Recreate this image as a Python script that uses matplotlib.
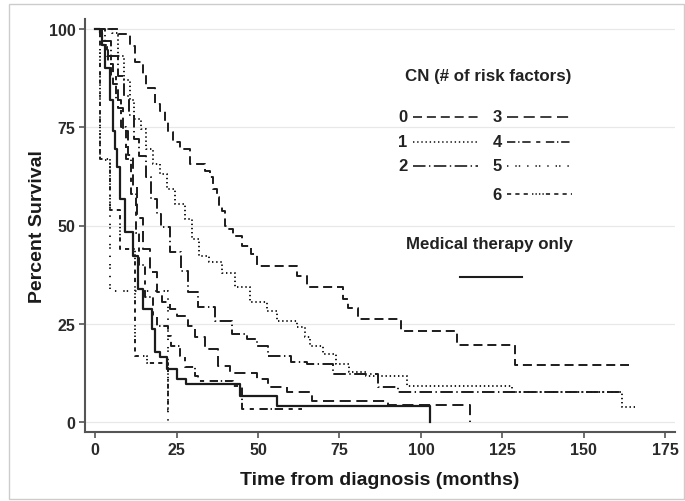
import matplotlib
matplotlib.use("Agg")
import matplotlib.pyplot as plt
from matplotlib.lines import Line2D
from matplotlib.patches import Rectangle

plt.rcParams['font.family'] = ['Liberation Sans', 'DejaVu Sans']
plt.rcParams['lines.scale_dashes'] = False

# Kaplan-Meier step points (months, percent surviving)
t0 = [0, 7, 10.7, 12.3, 14.7, 15.6, 18.4, 20, 21.5, 22.4, 24, 26, 29, 33.7, 35.3, 36.2, 37.4, 38, 38.9, 39.9,
      40.8, 42.3, 45, 48, 49.7, 62, 65, 76, 77.6, 80.7, 94, 111, 129]
s0 = [100, 98.7, 95.7, 91.6, 88.5, 85, 81, 79, 76.6, 73.8, 71.2, 69.5, 65.6, 63.9, 62.3, 59.3, 57.3, 54.7, 53.7, 50,
      49, 47.3, 44.8, 42.7, 39.7, 37.2, 34.3, 31.3, 29, 26.2, 23.2, 19.6, 14.5]
end0 = 164

t1 = [0, 5.2, 7, 9, 10.7, 12, 14, 15.6, 17.8, 20, 22, 24.5, 27.6, 29.8, 32, 35, 39, 43, 47.5, 52.8,
      55.8, 62, 64.4, 66, 70, 74, 78, 83, 95.7, 128, 161.7]
s1 = [100, 99, 93, 87, 82, 77, 74.5, 69.5, 65.6, 63, 59.3, 55.5, 51.6, 46.5, 42.2, 40.7, 38, 34.3, 30.5, 28.2,
      25.7, 24.2, 21.6, 19.3, 17.3, 14.8, 12.7, 11.7, 9.2, 7.6, 3.8]
end1 = 165.6

t2 = [0, 3, 5, 7, 9, 10.5, 12, 13.5, 15.5, 17.2, 19, 20.2, 23, 26.4, 28.5, 31.6, 36.8, 42, 46.6, 49.7,
      53, 60, 65, 73, 86.8, 93]
s2 = [100, 97, 93, 88, 83, 78, 72, 67.7, 62.3, 56.7, 53, 49.6, 43.3, 38.4, 33, 29.3, 25.7, 22.4, 21.1, 19.3,
      16.8, 15.3, 14.8, 12.2, 8.9, 7.6]
end2 = 162

t3 = [0, 2, 4, 5.5, 7, 8.5, 10, 11.5, 13, 14.7, 16.9, 19, 20.6, 23, 25, 28.5, 30.7, 33.7, 37.7, 41.4,
      49.7, 53, 59, 66.6, 90, 115]
s3 = [100, 96, 91, 86, 80, 74, 68, 60, 52, 44, 38.2, 33, 30.5, 28.8, 27, 24.4, 21.6, 18.6, 14.2, 12.4,
      11, 8.9, 7.6, 5.3, 4.3, 0]
end3 = 115

t4 = [0, 2, 3.5, 5, 6.5, 8, 9.5, 11, 12.5, 13.5, 15.3, 17.8, 19, 22.4, 23.3, 26, 27.5, 30.7, 31.6, 42.3, 45]
s4 = [100, 97, 93, 88, 82, 75, 67, 58, 48, 40, 31.8, 27, 24.4, 21.9, 19.3, 16.8, 14, 11.7, 10.4, 9.2, 3.3]
end4 = 63.5

t5 = [0, 1.5, 4.5, 22.5]
s5 = [100, 66.7, 33.3, 0]
end5 = 22.5

t6 = [0, 1.5, 4.5, 7.7, 12.3, 16, 22.4]
s6 = [100, 67, 54, 44, 16.7, 15, 3]
end6 = 23

tm = [0, 1.5, 2.1, 3, 4.6, 5.5, 6.1, 6.7, 7.7, 9.2, 11.7, 13.2, 14.7, 17.5, 18.4, 20, 22, 25, 28, 44.5,
      55.8, 102.8]
sm = [100, 99, 96, 90, 82, 74, 69.5, 65, 56.7, 48.3, 42.2, 33.8, 28.8, 23.7, 17.8, 16.5, 13.5, 11, 9.7, 6.6,
      4.1, 0]
endm = 102.8

x_ticks = [0, 25, 50, 75, 100, 125, 150, 175]
y_ticks = [0, 25, 50, 75, 100]

dash = {
    '0': (0, (6.5, 3.5)),
    '1': (0, (1, 2)),
    '2': (0, (9, 2.5, 1, 2.5)),
    '3': (0, (8, 4)),
    '4': (0, (6, 2, 1, 2, 6, 4, 3, 4)),
    '5': (0, (1, 5, 1, 1.5, 1, 5)),
    '6': (0, (3, 3, 3, 3, 3, 3, 1, 1.5, 1, 1.5, 1, 1.5, 1, 1.5)),
}
ink = '#1c1c1c'

W, H = 685, 502
fig = plt.figure(figsize=(W / 100, H / 100), dpi=100)
ax = fig.add_axes([85 / W, 1 - 433 / H, (675 - 85) / W, (433 - 20) / H])


def km(t, s, end, ls, lw=1.4):
    ax.step(list(t) + [end], list(s) + [s[-1]], where='post', color=ink, lw=lw, linestyle=ls)


km(t0, s0, end0, dash['0'])
km(t1, s1, end1, dash['1'])
km(t2, s2, end2, dash['2'])
km(t3, s3, end3, dash['3'])
km(t4, s4, end4, dash['4'])
km(t5, s5, end5, dash['5'])
km(t6, s6, end6, dash['6'])
km(tm, sm, endm, '-', lw=1.6)

ax.set_xlim(-3.1, 178)
ax.set_ylim(-2.5, 102.5)
ax.set_xticks(x_ticks)
ax.set_yticks(y_ticks)
ax.yaxis.grid(True, color='#e8e8e8', lw=0.9)
ax.set_axisbelow(True)
for side in ['top', 'right']:
    ax.spines[side].set_visible(False)
for side in ['left', 'bottom']:
    ax.spines[side].set_color('#555555')
    ax.spines[side].set_linewidth(1.5)
ax.tick_params(direction='out', length=4, width=1.2, color='#555555', labelsize=11.5,
               labelcolor='#2a2a2a', pad=3)
for lab in ax.get_xticklabels() + ax.get_yticklabels():
    lab.set_fontweight('bold')
ax.set_xlabel('Time from diagnosis (months)', fontsize=14, fontweight='bold', color='#1a1a1a', labelpad=10)
ax.set_ylabel('Percent Survival', fontsize=14, fontweight='bold', color='#1a1a1a', labelpad=2)


# legend drawn in figure pixels
def fx(p):
    return p / W


def fy(p):
    return 1 - p / H


fig.text(fx(488), fy(77), 'CN (# of risk factors)', ha='center', va='center', fontsize=12.2,
         fontweight='bold', color='#222222')
rows = [('0', 403, 118), ('1', 403, 143), ('2', 403, 167),
        ('3', 497, 118), ('4', 497, 143), ('5', 497, 167), ('6', 497, 195)]
for lab, xp, yp in rows:
    fig.text(fx(xp), fy(yp), lab, ha='center', va='center', fontsize=12, fontweight='bold', color='#222222')
    fig.add_artist(Line2D([fx(xp + 10), fx(xp + 75)], [fy(yp), fy(yp)], transform=fig.transFigure,
                          color=ink, lw=1.2, linestyle=dash[lab]))

fig.text(fx(489), fy(245), 'Medical therapy only', ha='center', va='center', fontsize=12.2,
         fontweight='bold', color='#222222')
fig.add_artist(Line2D([fx(460), fx(522)], [fy(278), fy(278)], transform=fig.transFigure, color=ink, lw=1.5))

fig.patches.append(Rectangle((fx(9), 0.004), fx(675), 1 - 5 / H - 0.004, transform=fig.transFigure,
                             fill=False, ec='#cccccc', lw=1))

fig.savefig('out.png', dpi=100)
